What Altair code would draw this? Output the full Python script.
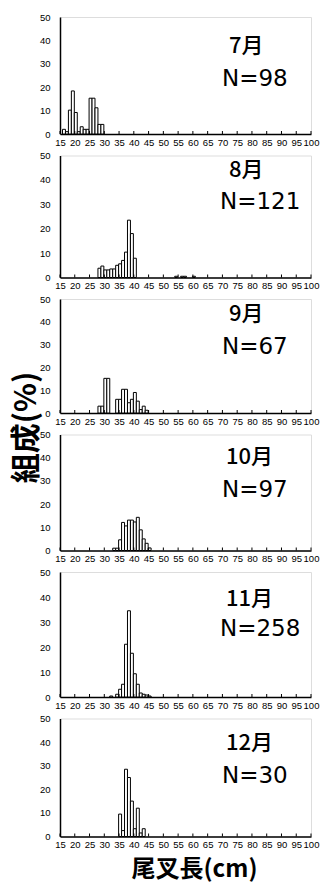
import altair as alt
import pandas as pd

X_TICKS = list(range(15, 101, 5))
MONTHS = ["7月", "8月", "9月", "10月", "11月", "12月"]
N_LABELS = ["N=98", "N=121", "N=67", "N=97", "N=258", "N=30"]

JUL_LEN = [16, 17, 18, 19, 20, 21, 22, 23, 24, 25, 26, 27, 28, 29]
JUL_PCT = [2.0, 1.0, 10.2, 18.4, 9.2, 1.0, 3.1, 2.0, 2.0, 15.3, 15.3, 11.2, 4.1, 4.1]

AUG_LEN = [28, 29, 30, 31, 32, 33, 34, 35, 36, 37, 38, 39, 40, 54, 56, 57, 60]
AUG_PCT = [3.8, 4.7, 3.1, 3.1, 3.5, 3.5, 5.0, 5.6, 7.0, 10.4, 23.5, 18.0, 7.9, 0.5, 0.5, 0.5, 0.5]

SEP_LEN = [28, 29, 30, 31, 34, 35, 36, 37, 38, 39, 40, 41, 42, 43, 44]
SEP_PCT = [3.0, 3.0, 15.2, 15.2, 6.0, 6.0, 10.4, 10.4, 4.5, 6.0, 9.0, 5.2, 1.5, 3.0, 1.2]

OCT_LEN = [33, 34, 35, 36, 37, 38, 39, 40, 41, 42, 43, 44, 45]
OCT_PCT = [1.0, 1.0, 4.6, 12.1, 10.6, 13.1, 13.1, 12.3, 14.3, 8.9, 5.0, 3.1, 1.1]

NOV_LEN = [32, 34, 35, 36, 37, 38, 39, 40, 41, 42, 43, 44, 45]
NOV_PCT = [0.4, 1.1, 3.1, 5.1, 21.1, 34.5, 17.5, 9.3, 5.1, 1.6, 1.1, 0.8, 0.4]

DEC_LEN = [35, 36, 37, 38, 39, 40, 41, 42, 43]
DEC_PCT = [9.5, 2.5, 28.5, 25.0, 15.0, 3.3, 12.0, 1.5, 3.3]

SERIES = [
    (JUL_LEN, JUL_PCT), (AUG_LEN, AUG_PCT), (SEP_LEN, SEP_PCT),
    (OCT_LEN, OCT_PCT), (NOV_LEN, NOV_PCT), (DEC_LEN, DEC_PCT),
]

# layout (pixels)
PANEL_W = 251
PANEL_H = [117, 122, 114, 116, 125, 118]
MONTH_POS = [(169, 29), (169, 14), (169, 15), (166, 22), (166, 27), (166, 24)]
N_POS = [(162, 62), (160, 46), (162, 48), (162, 55), (160, 57), (162, 57)]

JP = "Noto Sans CJK JP"
LAB = "Liberation Sans"


def panel(i):
    lens, pcts = SERIES[i]
    h = PANEL_H[i]
    df = pd.DataFrame({"len": lens, "pct": pcts})
    xscale = alt.Scale(domain=[15, 100], nice=False, zero=False, padding=0)
    yscale = alt.Scale(domain=[0, 50], nice=False, padding=0)
    last = i == 5
    xaxis_kw = dict(values=X_TICKS, ticks=False, labelFontSize=9.5, labelFont=LAB,
                    labelPadding=3, labelOverlap=False, labelFlush=False, grid=False,
                    labelSeparation=0,
                    domainWidth=1.5, domainColor="black", labelColor="black")
    if last:
        xaxis_kw.update(titleFont=JP, titleFontSize=24, titleFontWeight="bold",
                        titlePadding=8, titleColor="black", titleX=134)
    yaxis_kw = dict(values=[0, 10, 20, 30, 40, 50], ticks=False, labelFontSize=9.5,
                    labelFont=LAB, labelPadding=10, grid=False, domainWidth=1.5,
                    domainColor="black", labelColor="black")
    if i == 2:
        yaxis_kw.update(titleFont=JP, titleFontSize=30, titleFontWeight="bold",
                        titleX=-19, titleY=128, titleAngle=270, titleAlign="center",
                        titleBaseline="bottom", titleColor="black")
    xtitle = "尾叉長(cm)" if last else None
    bars = alt.Chart(df).transform_calculate(
        x0="datum.len - 0.15", x1="datum.len + 0.85"
    ).mark_rect(fill="white", stroke="black", strokeWidth=1).encode(
        x=alt.X("x0:Q", scale=xscale, axis=alt.Axis(**xaxis_kw), title=xtitle),
        x2="x1:Q",
        y=alt.Y("pct:Q", scale=yscale, axis=alt.Axis(**yaxis_kw),
                title="組成(%)" if i == 2 else None),
        y2=alt.datum(0),
    )
    ticks = alt.Chart(pd.DataFrame({"t": X_TICKS})).mark_rule(
        color="black", strokeWidth=1
    ).encode(
        x=alt.X("t:Q", scale=xscale, axis=alt.Axis(**xaxis_kw), title=xtitle),
        y=alt.value(h - 3), y2=alt.value(h),
    )
    month = alt.Chart(pd.DataFrame({"m": [MONTHS[i]]})).mark_text(
        align="left", baseline="middle", font=JP, fontSize=22, fontWeight=500,
        color="black"
    ).encode(x=alt.value(MONTH_POS[i][0]), y=alt.value(MONTH_POS[i][1]), text="m:N")
    ntext = alt.Chart(pd.DataFrame({"n": [N_LABELS[i]]})).mark_text(
        align="left", baseline="middle", font="DejaVu Sans", fontSize=23, color="black"
    ).encode(x=alt.value(N_POS[i][0]), y=alt.value(N_POS[i][1]), text="n:N")
    return alt.layer(bars, ticks, month, ntext).properties(width=PANEL_W, height=h)


chart = alt.vconcat(*[panel(i) for i in range(6)], spacing=21.5, bounds="flush").properties(
    padding={"left": 2, "top": 3, "right": 0, "bottom": 0}
).configure_view(strokeWidth=0).configure_axis(
    labelOverlap=False, labelSeparation=0
).configure(background="white")

chart.save("out.html", embed_options={"renderer": "svg", "actions": False})
